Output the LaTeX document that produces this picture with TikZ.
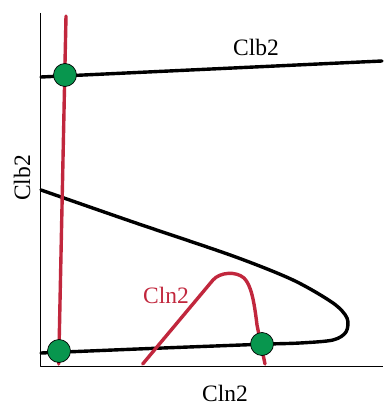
\documentclass[tikz,border=0pt]{standalone}
\usepackage{fontspec}
\setmainfont{Liberation Serif}
\definecolor{clnred}{RGB}{193,39,61}
\definecolor{fixgreen}{RGB}{8,150,78}

\begin{document}
\begin{tikzpicture}[x=1pt,y=-1pt,line cap=round,line join=round,
  nullcl/.style={line width=3.4pt},
  fixpt/.style={circle,draw=black,line width=0.7pt,fill=fixgreen,minimum size=23pt,inner sep=0pt},
  lbl/.style={font=\fontsize{23.5}{26}\selectfont,inner sep=0pt}]
  \useasboundingbox (0,0) rectangle (383,406);
  % axes
  \draw[line width=1pt,line cap=butt] (40.7,13) -- (40.7,366) -- (383,366);
  % Clb2 nullcline
  \draw[nullcl] (41,77) -- (382,61);
  \draw[nullcl] plot[smooth,tension=0.5] coordinates {(41,190) (133,222) (233,256) (293,280) (333,303) (347,318) (346,332) (333,340) (300,343) (260,344.3) (150,348.5) (41,353)};
  % Cln2 nullcline
  \draw[nullcl,clnred] (66,16) -- (58.7,364);
  \draw[nullcl,clnred] (142.7,364) -- (213,280) .. controls (220,272) and (236,271) .. (244,278)
    .. controls (251,285) and (254,300) .. (257,325) -- (265,364);
  % fixed points
  \node[fixpt] (fixhi) at (65,75) {};
  \node[fixpt] (fixlo) at (59,351) {};
  \node[fixpt] (fixmid) at (262,344) {};
  % labels
  \node[lbl] (clbtop) at (256,47) {Clb2};
  \node[lbl,rotate=90] (ylab) at (22,178) {Clb2};
  \node[lbl,text=clnred] (clnmid) at (166,295) {Cln2};
  \node[lbl] (xlab) at (225,393) {Cln2};
\end{tikzpicture}
\end{document}
